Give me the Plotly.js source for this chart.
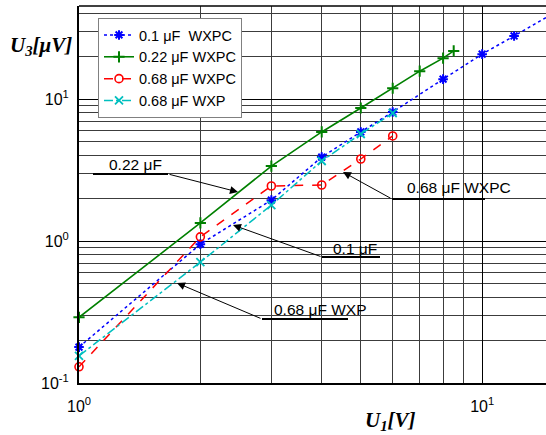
<!DOCTYPE html>
<html><head><meta charset="utf-8">
<script src="https://cdn.plot.ly/plotly-3.0.1.min.js"></script>
<style>html,body{margin:0;padding:0;background:#fff;overflow:hidden}</style>
</head><body>
<div id="chart" style="width:546px;height:435px"></div>
<script>
// ---- data ----
const seriesNames = ['0.1 \u03bcF  WXPC', '0.22 \u03bcF WXPC', '0.68 \u03bcF WXPC', '0.68 \u03bcF WXP'];
const x01 = [1, 2, 3, 4, 5, 6, 8, 10, 12, 15];
const y01 = [0.179, 0.95, 1.94, 3.9, 5.86, 8.1, 13.8, 20.7, 27.8, 40];
const x022 = [1, 2, 3, 4, 5, 6, 7, 8, 8.5];
const y022 = [0.29, 1.34, 3.37, 5.86, 8.64, 11.9, 15.7, 19.4, 21.8];
const x068c = [1, 2, 3, 4, 5, 6];
const y068c = [0.13, 1.07, 2.44, 2.48, 3.78, 5.49];
const x068 = [1, 2, 3, 4, 5, 6];
const y068 = [0.155, 0.71, 1.79, 3.66, 5.67, 7.97];
const xTickVals = [1, 10];
const xTickText = ['10<sup>0</sup>', '10<sup>1</sup>'];
const yTickVals = [0.1, 1, 10];
const yTickText = ['10<sup>-1</sup>', '10<sup>0</sup>', '10<sup>1</sup>'];
const xMinor = [2,3,4,5,6,7,8,9];
const yMinor = [0.2,0.3,0.4,0.5,0.6,0.7,0.8,0.9,2,3,4,5,6,7,8,9,20,30,40];
const calloutTexts = ['0.22 \u03bcF', '0.1 \u03bcF', '0.68 \u03bcF WXP', '0.68 \u03bcF WXPC'];

// ---- layout geometry (pixels) ----
const L = 79, R = 546, T = 6, B = 383;
const W = R - L, H = B - T;
const px = p => (p - L) / W;
const py = p => (B - p) / H;
const FONT = 'Arial, "Liberation Sans", sans-serif';
const SERIF = '"Liberation Serif", "Times New Roman", serif';

const traces = [
  {x: x01, y: y01, name: seriesNames[0], mode: 'lines+markers', cliponaxis: false,
   line: {color: '#0000ff', dash: 'dot', width: 1.5},
   marker: {symbol: 'asterisk-open', size: 8, color: '#0000ff', line: {color: '#0000ff', width: 2}}},
  {x: x022, y: y022, name: seriesNames[1], mode: 'lines+markers', cliponaxis: false,
   line: {color: '#008000', width: 1.6},
   marker: {symbol: 'cross-thin-open', size: 8, color: '#008000', line: {color: '#008000', width: 2}}},
  {x: x068c, y: y068c, name: seriesNames[2], mode: 'lines+markers', cliponaxis: false,
   line: {color: '#ff0000', dash: 'dash', width: 1.5},
   marker: {symbol: 'circle-open', size: 8, color: '#ff0000', line: {color: '#ff0000', width: 1.6}}},
  {x: x068, y: y068, name: seriesNames[3], mode: 'lines+markers', cliponaxis: false,
   line: {color: '#00bfbf', dash: 'dashdot', width: 1.5},
   marker: {symbol: 'x-thin-open', size: 8, color: '#00bfbf', line: {color: '#00bfbf', width: 1.8}}}
];

// callouts: text centre, underline, arrow tail -> tip (pixels)
const callouts = [
  {t: calloutTexts[0], cx: 135, cy: 164, u0: 93, u1: 168, uy: 174, tail: [168, 174], tip: [238, 192]},
  {t: calloutTexts[1], cx: 355, cy: 248, u0: 322, u1: 380, uy: 257, tail: [322, 257], tip: [233, 225]},
  {t: calloutTexts[2], cx: 320, cy: 309, u0: 262, u1: 348, uy: 319, tail: [262, 319], tip: [177, 283]},
  {t: calloutTexts[3], cx: 459, cy: 187, u0: 392, u1: 485, uy: 199, tail: [392, 199], tip: [343, 172]}
];

const annotations = [];
const shapes = [];
callouts.forEach(c => {
  annotations.push({xref: 'paper', yref: 'paper', x: px(c.cx), y: py(c.cy), text: c.t, showarrow: false,
    xanchor: 'center', yanchor: 'middle', font: {family: FONT, size: 15.5, color: '#000'}});
  shapes.push({type: 'line', xref: 'paper', yref: 'paper', x0: px(c.u0), x1: px(c.u1), y0: py(c.uy), y1: py(c.uy),
    line: {color: '#000', width: 1.8}});
  annotations.push({xref: 'paper', yref: 'paper', x: px(c.tip[0]), y: py(c.tip[1]), text: '',
    showarrow: true, arrowhead: 2, arrowsize: 1.6, arrowwidth: 1, arrowcolor: '#000', standoff: 0, startstandoff: 0,
    ax: c.tail[0] - c.tip[0], ay: c.tail[1] - c.tip[1]});
});
// axis titles
annotations.push({xref: 'paper', yref: 'paper', x: px(41), y: py(46), xanchor: 'center', yanchor: 'middle', showarrow: false,
  text: '<b><i>U</i></b><sub><b><i>3</i></b></sub><b><i>[\u03bcV]</i></b>', font: {family: SERIF, size: 21, color: '#000'}});
annotations.push({xref: 'paper', yref: 'paper', x: px(390), y: py(421), xanchor: 'center', yanchor: 'middle', showarrow: false,
  text: '<b><i>U</i></b><sub><b><i>1</i></b></sub><b><i>[V]</i></b>', font: {family: SERIF, size: 21, color: '#000'}});

const layout = {
  width: 546, height: 435,
  margin: {l: L, r: 546 - R, t: T, b: 435 - B, pad: 0},
  paper_bgcolor: '#fff', plot_bgcolor: '#fff',
  showlegend: true,
  legend: {x: px(98), y: py(18), xanchor: 'left', yanchor: 'top', bgcolor: '#fff', bordercolor: '#808080', borderwidth: 1,
    font: {family: FONT, size: 14.5, color: '#000'}, tracegroupgap: 0},
  xaxis: {type: 'log', range: [0, Math.log10(14.4)], tickvals: xTickVals, ticktext: xTickText, ticks: '',
    showgrid: true, gridcolor: '#000', gridwidth: 1, showline: true, linecolor: '#000', linewidth: 2, mirror: false,
    zeroline: false, tickfont: {family: FONT, size: 16, color: '#000'}, ticklabelstandoff: 8,
    minor: {tickvals: xMinor, showgrid: true, gridcolor: '#3c3c3c', gridwidth: 1, ticks: ''}},
  yaxis: {type: 'log', range: [-1, (B - T) / 142 - 1], tickvals: yTickVals, ticktext: yTickText, ticks: '',
    showgrid: true, gridcolor: '#000', gridwidth: 1, showline: true, linecolor: '#000', linewidth: 2, mirror: false,
    zeroline: false, tickfont: {family: FONT, size: 16, color: '#000'}, ticklabelstandoff: 5,
    minor: {tickvals: yMinor, showgrid: true, gridcolor: '#3c3c3c', gridwidth: 1, ticks: ''}},
  annotations: annotations,
  shapes: shapes.concat([{type: 'line', xref: 'paper', yref: 'paper', x0: 0, x1: 1, y0: 1, y1: 1, line: {color: '#000', width: 1.5}}])
};

Plotly.newPlot('chart', traces, layout, {staticPlot: true, displayModeBar: false});
</script>
</body></html>
